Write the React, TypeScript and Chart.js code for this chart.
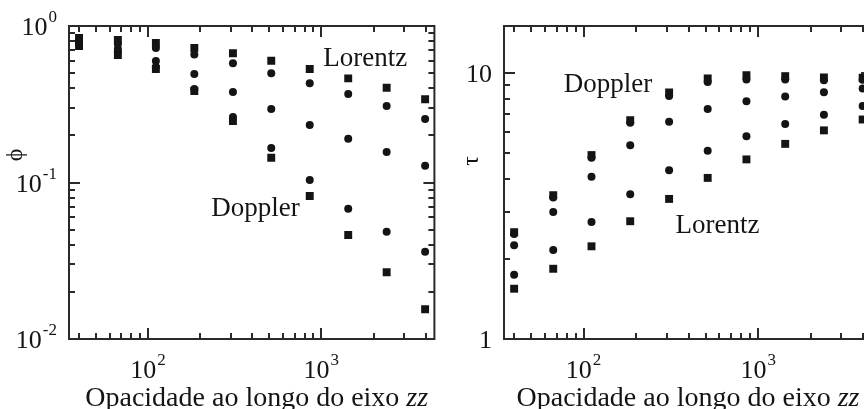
import { useEffect, useRef } from 'react';
import { Chart, registerables } from 'chart.js';

Chart.register(...registerables);

// Opacity along the zz axis (shared abscissa of both panels)
const opacity = [40, 67, 111, 185, 309, 514, 857, 1429, 2381, 3969];

// Left panel: phi
const phiLorentz = [0.838, 0.814, 0.779, 0.723, 0.669, 0.6, 0.531, 0.463, 0.403, 0.34];
const phiMid1 = [0.814, 0.767, 0.723, 0.658, 0.578, 0.499, 0.43, 0.368, 0.308, 0.2545];
const phiMid2 = [0.79, 0.713, 0.598, 0.494, 0.379, 0.295, 0.233, 0.1905, 0.1566, 0.128];
const phiMid3 = [0.767, 0.682, 0.547, 0.396, 0.262, 0.166, 0.1038, 0.068, 0.0485, 0.0361];
const phiDoppler = [0.745, 0.653, 0.531, 0.384, 0.247, 0.144, 0.082, 0.0462, 0.0267, 0.0155];

// Right panel: tau
const tauDoppler = [2.52, 3.47, 4.91, 6.64, 8.44, 9.53, 9.8, 9.72, 9.61, 9.59];
const tauMid1 = [2.48, 3.4, 4.8, 6.49, 8.18, 9.25, 9.44, 9.44, 9.39, 9.42];
const tauMid2 = [2.25, 3.0, 4.07, 5.35, 6.55, 7.32, 7.83, 8.15, 8.46, 8.74];
const tauMid3 = [1.744, 2.16, 2.75, 3.5, 4.31, 5.1, 5.78, 6.42, 6.96, 7.5];
const tauLorentz = [1.545, 1.836, 2.23, 2.77, 3.36, 4.03, 4.73, 5.41, 6.08, 6.68];

// Axis ranges and labelled ticks
const xRange = [35, 4490];
const phiRange = [0.01, 1];
const tauRange = [1, 15];
const xTickValues = [100, 1000];
const xTickExps = ['2', '3'];
const phiTickValues = [0.01, 0.1, 1];
const phiTickExps = ['-2', '-1', '0'];
const tauTickValues = [1, 10];
const tauTickTexts = ['1', '10'];

const xTitle = 'Opacidade ao longo do eixo ';
const xTitleItalic = 'zz';

const SERIF = '"Liberation Serif", "Times New Roman", Times, serif';
const INK = '#141414';
const FRAME = '#2a2a2a';

type Series = { data: number[]; style: 'rect' | 'circle' };
type Note = { text: string; x: number; y: number };
type Panel = {
  yRange: number[];
  series: Series[];
  yTickValues: number[];
  yTickBase: string[];
  yTickExp: string[];
  yTitle: string;
  yTitleX: number;
  yTitleY: number;
  titleDx: number;
  notes: Note[];
  padLeft: number;
  padRight: number;
};

const phiPanel: Panel = {
  yRange: phiRange,
  series: [
    { data: phiLorentz, style: 'rect' },
    { data: phiMid1, style: 'circle' },
    { data: phiMid2, style: 'circle' },
    { data: phiMid3, style: 'circle' },
    { data: phiDoppler, style: 'rect' },
  ],
  yTickValues: phiTickValues,
  yTickBase: phiTickValues.map(() => '10'),
  yTickExp: phiTickExps,
  yTitle: '\u03D5',
  yTitleX: 16,
  yTitleY: 155,
  titleDx: 5,
  notes: [
    { text: 'Lorentz', x: 1026, y: 0.555 },
    { text: 'Doppler', x: 232, y: 0.0611 },
  ],
  padLeft: 69,
  padRight: 3,
};

const tauPanel: Panel = {
  yRange: tauRange,
  series: [
    { data: tauLorentz, style: 'rect' },
    { data: tauMid3, style: 'circle' },
    { data: tauMid2, style: 'circle' },
    { data: tauMid1, style: 'circle' },
    { data: tauDoppler, style: 'rect' },
  ],
  yTickValues: tauTickValues,
  yTickBase: tauTickTexts,
  yTickExp: tauTickValues.map(() => ''),
  yTitle: '\u03C4',
  yTitleX: 32,
  yTitleY: 161,
  titleDx: 0,
  notes: [
    { text: 'Doppler', x: 76.9, y: 8.46 },
    { text: 'Lorentz', x: 336, y: 2.5 },
  ],
  padLeft: 64,
  padRight: 8,
};

function logTicks(min: number, max: number) {
  const out: { v: number; major: boolean }[] = [];
  const k0 = Math.floor(Math.log10(min));
  const k1 = Math.ceil(Math.log10(max));
  for (let k = k0; k <= k1; k++) {
    for (let m = 1; m <= 9; m++) {
      const v = m * Math.pow(10, k);
      if (v >= min * 0.999 && v <= max * 1.001) out.push({ v, major: m === 1 });
    }
  }
  return out;
}

function drawPower(
  ctx: CanvasRenderingContext2D,
  base: string,
  exp: string,
  x: number,
  y: number,
  align: 'center' | 'right'
) {
  ctx.font = `26px ${SERIF}`;
  const wb = ctx.measureText(base).width;
  ctx.font = `17px ${SERIF}`;
  const we = exp ? ctx.measureText(exp).width + 1 : 0;
  const total = wb + we;
  const left = align === 'center' ? x - total / 2 : x - total;
  ctx.textAlign = 'left';
  ctx.textBaseline = 'alphabetic';
  ctx.font = `26px ${SERIF}`;
  ctx.fillText(base, left, y);
  if (exp) {
    ctx.font = `17px ${SERIF}`;
    ctx.fillText(exp, left + wb + 1, y - 13);
  }
}

function panelDecor(p: Panel) {
  return {
    id: 'panelDecor',
    afterDraw(chart: any) {
      const ctx: CanvasRenderingContext2D = chart.ctx;
      const { left, right, top, bottom } = chart.chartArea;
      const xs = chart.scales.x;
      const ys = chart.scales.y;
      ctx.save();

      // inward ticks on all four sides
      ctx.strokeStyle = FRAME;
      ctx.lineWidth = 2;
      ctx.beginPath();
      for (const t of logTicks(xs.min, xs.max)) {
        const px = Math.round(xs.getPixelForValue(t.v));
        const len = t.major ? 11 : 6;
        ctx.moveTo(px, bottom);
        ctx.lineTo(px, bottom - len);
        ctx.moveTo(px, top);
        ctx.lineTo(px, top + len);
      }
      for (const t of logTicks(ys.min, ys.max)) {
        const py = Math.round(ys.getPixelForValue(t.v));
        const len = t.major ? 11 : 6;
        ctx.moveTo(left, py);
        ctx.lineTo(left + len, py);
        ctx.moveTo(right, py);
        ctx.lineTo(right - len, py);
      }
      ctx.stroke();

      // frame
      ctx.strokeRect(left, top, right - left, bottom - top);

      // tick labels
      ctx.fillStyle = INK;
      xTickValues.forEach((v, i) => {
        drawPower(ctx, '10', xTickExps[i], xs.getPixelForValue(v), bottom + 39, 'center');
      });
      p.yTickValues.forEach((v, i) => {
        drawPower(ctx, p.yTickBase[i], p.yTickExp[i], left - 12, ys.getPixelForValue(v) + 9, 'right');
      });

      // x-axis title
      ctx.font = `28px ${SERIF}`;
      const w1 = ctx.measureText(xTitle).width;
      ctx.font = `italic 28px ${SERIF}`;
      const w2 = ctx.measureText(xTitleItalic).width;
      const tx = (left + right) / 2 + p.titleDx - (w1 + w2) / 2;
      ctx.textAlign = 'left';
      ctx.textBaseline = 'alphabetic';
      ctx.font = `28px ${SERIF}`;
      ctx.fillText(xTitle, tx, bottom + 67);
      ctx.font = `italic 28px ${SERIF}`;
      ctx.fillText(xTitleItalic, tx + w1, bottom + 67);

      // y-axis title (rotated)
      ctx.save();
      ctx.translate(p.yTitleX, p.yTitleY);
      ctx.rotate(-Math.PI / 2);
      ctx.font = `24px ${SERIF}`;
      ctx.textAlign = 'center';
      ctx.textBaseline = 'middle';
      ctx.fillText(p.yTitle, 0, 0);
      ctx.restore();

      // curve annotations
      ctx.font = `27px ${SERIF}`;
      ctx.textAlign = 'left';
      ctx.textBaseline = 'alphabetic';
      for (const n of p.notes) {
        ctx.fillText(n.text, xs.getPixelForValue(n.x), ys.getPixelForValue(n.y));
      }
      ctx.restore();
    },
  };
}

function buildChart(canvas: HTMLCanvasElement, p: Panel) {
  return new Chart(canvas, {
    type: 'scatter',
    data: {
      datasets: p.series.map((s) => ({
        data: opacity.map((x, i) => ({ x, y: s.data[i] })),
        pointStyle: s.style,
        pointRadius: s.style === 'rect' ? 5.6 : 4.0,
        pointBorderWidth: 0,
        backgroundColor: INK,
        borderColor: INK,
        showLine: false,
      })),
    },
    options: {
      animation: false,
      responsive: false,
      maintainAspectRatio: false,
      events: [],
      layout: { padding: { left: p.padLeft, right: p.padRight, top: 26, bottom: 70 } },
      plugins: { legend: { display: false }, tooltip: { enabled: false } },
      scales: {
        x: { type: 'logarithmic', min: xRange[0], max: xRange[1], display: false },
        y: { type: 'logarithmic', min: p.yRange[0], max: p.yRange[1], display: false },
      },
    },
    plugins: [panelDecor(p)],
  } as any);
}

export default function App() {
  const leftRef = useRef<HTMLCanvasElement>(null);
  const rightRef = useRef<HTMLCanvasElement>(null);

  useEffect(() => {
    const a = buildChart(leftRef.current!, phiPanel);
    const b = buildChart(rightRef.current!, tauPanel);
    return () => {
      a.destroy();
      b.destroy();
    };
  }, []);

  return (
    <div
      style={{
        position: 'fixed',
        left: 0,
        top: 0,
        width: 864,
        height: 409,
        overflow: 'hidden',
        background: '#fff',
      }}
    >
      <canvas
        ref={leftRef}
        width={440}
        height={409}
        style={{ position: 'absolute', left: 0, top: 0, width: 440, height: 409 }}
      />
      <canvas
        ref={rightRef}
        width={440}
        height={409}
        style={{ position: 'absolute', left: 440, top: 0, width: 440, height: 409 }}
      />
    </div>
  );
}
